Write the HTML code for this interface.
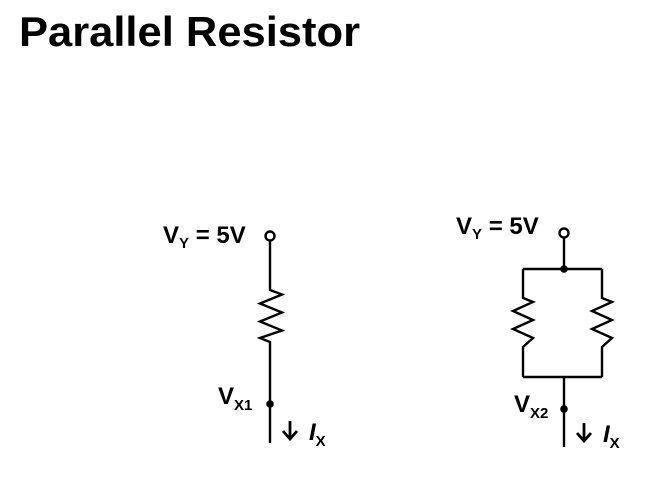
<!DOCTYPE html>
<html><head><style>body{margin:0;background:#fff}</style></head><body>
<svg width="664" height="492" xmlns="http://www.w3.org/2000/svg" font-family="Liberation Sans, sans-serif" font-weight="bold">
<text x="19" y="46" font-size="42" textLength="341" lengthAdjust="spacingAndGlyphs">Parallel Resistor</text>
<g stroke="#000" stroke-width="2.4" fill="none" stroke-linejoin="miter">
<circle cx="270" cy="236" r="4.5" fill="#fff"/>
<polyline points="270,240.5 270,290 282,294.5 260,303.5 282,312.5 260,321.5 282,330.5 260,338 270,342 270,443"/>
<circle cx="564" cy="233" r="4.5" fill="#fff"/>
<polyline points="564,237.5 564,269"/>
<polyline points="523,269 602,269"/>
<polyline points="523,269 523,298 533,302 513,311 533,320 513,329 533,338 523,347 523,377"/>
<polyline points="602,269 602,298 612,302 592,311 612,320 592,329 612,338 602,347 602,377"/>
<polyline points="523,377 602,377"/>
<polyline points="564,377 564,447"/>
<g stroke-width="2.8">
<path d="M290,421 v18 M283,431 l7,8 7,-8"/>
<path d="M584,423 v18 M577,433 l7,8 7,-8"/>
</g>
</g>
<circle cx="270" cy="404" r="3.8"/>
<circle cx="564" cy="269" r="3.8"/>
<circle cx="564" cy="409" r="3.8"/>
<g font-size="24">
<text x="163" y="243">V<tspan font-size="15" dy="5">Y</tspan><tspan dy="-5" font-size="24"> = 5V</tspan></text>
<text x="456" y="234">V<tspan font-size="15" dy="5">Y</tspan><tspan dy="-5" font-size="24"> = 5V</tspan></text>
<text x="218" y="404">V<tspan font-size="15" dy="6">X1</tspan></text>
<text x="514" y="412">V<tspan font-size="15" dy="6">X2</tspan></text>
<text x="309" y="440" font-style="italic">I<tspan font-size="15" dy="6" font-style="normal">X</tspan></text>
<text x="603" y="442" font-style="italic">I<tspan font-size="15" dy="6" font-style="normal">X</tspan></text>
</g>
</svg>
</body></html>
